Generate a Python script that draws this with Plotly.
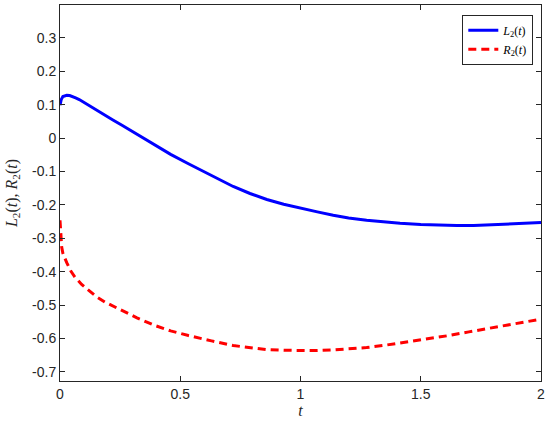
import plotly.graph_objects as go

t_L = [0.0, 0.005, 0.012, 0.02, 0.028, 0.04, 0.05, 0.065, 0.08, 0.098, 0.118, 0.15, 0.18, 0.22, 0.256, 0.32, 0.395, 0.46, 0.534, 0.582, 0.642, 0.72, 0.79, 0.86, 0.93, 1.0, 1.07, 1.136, 1.2, 1.275, 1.33, 1.414, 1.5, 1.58, 1.65, 1.72, 1.8, 1.9, 2.0]
L2 = [0.098, 0.115, 0.124, 0.127, 0.128, 0.127, 0.125, 0.12, 0.115, 0.107, 0.098, 0.084, 0.07, 0.054, 0.039, 0.012, -0.021, -0.049, -0.077, -0.095, -0.118, -0.145, -0.166, -0.184, -0.198, -0.21, -0.221, -0.231, -0.239, -0.246, -0.25, -0.255, -0.259, -0.261, -0.262, -0.262, -0.26, -0.257, -0.253]

t_R = [0.0, 0.002, 0.004, 0.007, 0.012, 0.02, 0.028, 0.045, 0.062, 0.09, 0.118, 0.15, 0.187, 0.256, 0.32, 0.395, 0.46, 0.534, 0.582, 0.63, 0.72, 0.79, 0.86, 0.93, 1.0, 1.07, 1.136, 1.2, 1.275, 1.351, 1.42, 1.5, 1.608, 1.7, 1.8, 1.9, 2.0]
R2 = [-0.246, -0.28, -0.3, -0.326, -0.345, -0.362, -0.373, -0.398, -0.416, -0.438, -0.456, -0.474, -0.491, -0.516, -0.538, -0.561, -0.577, -0.591, -0.6, -0.607, -0.621, -0.628, -0.633, -0.635, -0.636, -0.636, -0.634, -0.631, -0.627, -0.62, -0.613, -0.604, -0.592, -0.58, -0.567, -0.555, -0.542]

x_ticks = [0, 0.5, 1, 1.5, 2]
x_labels = ["0", "0.5", "1", "1.5", "2"]
y_ticks = [-0.7, -0.6, -0.5, -0.4, -0.3, -0.2, -0.1, 0, 0.1, 0.2, 0.3]
y_labels = ["-0.7", "-0.6", "-0.5", "-0.4", "-0.3", "-0.2", "-0.1", "0", "0.1", "0.2", "0.3"]

axis_color = "#262626"
serif = "Liberation Serif, Times New Roman, serif"

fig = go.Figure()
fig.add_trace(go.Scatter(x=t_L, y=L2, mode="lines", line=dict(color="#0000ff", width=3),
                         name="<i>L</i><sub>2</sub>(<i>t</i>)"))
fig.add_trace(go.Scatter(x=t_R, y=R2, mode="lines", line=dict(color="#ff0000", width=3, dash="8px,5px"),
                         name="<i>R</i><sub>2</sub>(<i>t</i>)"))

fig.update_layout(
    width=550, height=427,
    margin=dict(l=60, r=9, t=5, b=46, autoexpand=False),
    paper_bgcolor="white", plot_bgcolor="white",
    font=dict(family="Liberation Sans, Arial, sans-serif", size=14, color=axis_color),
    showlegend=True,
    legend=dict(x=0.984, y=0.974, xanchor="right", yanchor="top",
                bordercolor=axis_color, borderwidth=1, bgcolor="white",
                font=dict(family=serif, size=12, color="black"),
                tracegroupgap=0, itemwidth=30),
    xaxis=dict(range=[0, 2], tickvals=x_ticks, ticktext=x_labels, ticks="inside", ticklen=5,
               tickcolor=axis_color, showline=True, linecolor=axis_color, linewidth=1, mirror="ticks",
               showgrid=False, zeroline=False, automargin=False,
               title=dict(text="<i>t</i>", font=dict(family=serif, size=16, color=axis_color), standoff=2)),
    yaxis=dict(range=[-0.727, 0.398], tickvals=y_ticks, ticktext=y_labels, ticks="inside", ticklen=5,
               tickcolor=axis_color, showline=True, linecolor=axis_color, linewidth=1, mirror="ticks",
               showgrid=False, zeroline=False, automargin=False,
               title=dict(text="<i>L</i><sub>2</sub>(<i>t</i>), <i>R</i><sub>2</sub>(<i>t</i>)",
                          font=dict(family=serif, size=16, color=axis_color), standoff=10)),
)

fig.write_html("out.html", config={"displayModeBar": False},
               post_script="document.body.style.margin='0px';document.body.style.overflow='hidden';")
